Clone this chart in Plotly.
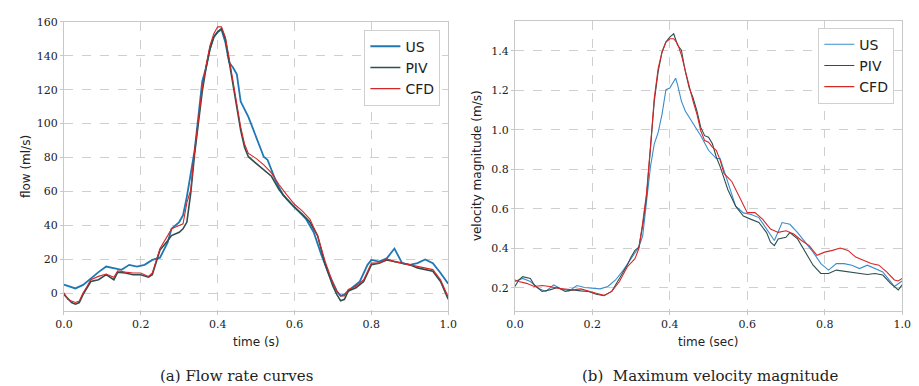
import plotly.graph_objects as go

# ---------- (a) Flow rate ----------
flow_us_t = [0, 0.03, 0.05, 0.07, 0.09, 0.11, 0.13, 0.15, 0.17, 0.19, 0.21, 0.23, 0.25, 0.27, 0.28, 0.30, 0.31, 0.32,
             0.34, 0.36, 0.37, 0.38, 0.39, 0.40, 0.41, 0.42, 0.43, 0.44, 0.45, 0.46, 0.48, 0.50, 0.52, 0.53, 0.55,
             0.57, 0.60, 0.63, 0.65, 0.67, 0.69, 0.71, 0.72, 0.73, 0.75, 0.77, 0.79, 0.80, 0.82, 0.84, 0.86, 0.88,
             0.90, 0.92, 0.94, 0.96, 0.98, 1.00]
flow_us = [5.2, 2.9, 5, 9, 12.5, 15.8, 14.9, 13.9, 16.8, 15.8, 16.8, 19.7, 21, 30, 38, 42, 46, 57,
           84, 125, 133, 144, 151, 154, 155.5, 148, 136, 133, 129, 113, 104, 92, 80.5, 78.6, 67,
           58, 50.6, 43.8, 36, 22.6, 11, 1.4, -1.5, -0.6, 3.3, 7, 16.8, 19.7, 18.7, 20.6, 26.4, 17.8,
           16.8, 17.8, 20, 17.8, 12, 5.6]

flow_piv_t = [0, 0.01, 0.02, 0.03, 0.04, 0.05, 0.06, 0.07, 0.09, 0.11, 0.13, 0.14, 0.16, 0.18, 0.20, 0.22, 0.23,
              0.25, 0.27, 0.28, 0.30, 0.31, 0.32, 0.33, 0.34, 0.35, 0.36, 0.37, 0.38, 0.39, 0.40, 0.41, 0.42,
              0.43, 0.44, 0.45, 0.46, 0.47, 0.48, 0.50, 0.52, 0.54, 0.56, 0.58, 0.60, 0.62, 0.64, 0.66, 0.68,
              0.70, 0.71, 0.72, 0.73, 0.74, 0.76, 0.78, 0.80, 0.82, 0.84, 0.86, 0.88, 0.90, 0.92, 0.94, 0.96,
              0.98, 1.00]
flow_piv = [-0.6, -3, -5.4, -6.4, -5.4, -0.6, 3.3, 7, 8, 11, 8, 12.5, 12, 11, 11, 9.5, 11,
            25.5, 31, 34, 36, 38, 42, 59, 82, 102, 119, 133, 144, 151, 154, 156, 150,
            136.5, 123, 107.5, 96, 86, 80.5, 76.6, 72.8, 69, 61, 55.4, 50.6, 46.7, 42, 34, 16.8,
            4.2, -0.6, -4.4, -3.5, 1.4, 3.3, 7, 16.8, 17.8, 19.7, 18.7, 17.8, 16.8, 15, 14, 13,
            7, -3.5]

flow_cfd_t = flow_piv_t
flow_cfd = [0.4, -3.5, -4.5, -5.4, -4.5, 0.4, 4, 8, 10, 11.4, 9.5, 13.3, 12.5, 12, 12, 10, 12,
            26.4, 34, 38, 40, 41, 53.5, 61, 84, 103.5, 121, 134.5, 146, 153, 157, 157, 151,
            138.5, 125, 109.5, 98, 88, 82.4, 79.5, 75.7, 71, 64, 58, 52.5, 48.6, 43.8, 34, 18.7,
            6, 1.4, -1.5, -1.5, 2.3, 4.2, 8, 17.8, 17.8, 20.3, 18.7, 17.8, 16.8, 15.8, 15, 14,
            8, -2.2]

# ---------- (b) Max velocity ----------
vel_us_t = [0, 0.02, 0.04, 0.06, 0.08, 0.10, 0.12, 0.14, 0.16, 0.18, 0.20, 0.22, 0.24, 0.26, 0.28, 0.30, 0.32,
            0.33, 0.34, 0.35, 0.36, 0.37, 0.38, 0.39, 0.40, 0.41, 0.415, 0.42, 0.43, 0.44, 0.46, 0.48, 0.50,
            0.52, 0.53, 0.55, 0.57, 0.59, 0.61, 0.63, 0.65, 0.67, 0.69, 0.71, 0.73, 0.75, 0.77, 0.79, 0.81,
            0.83, 0.85, 0.87, 0.89, 0.91, 0.93, 0.95, 0.97, 0.98, 1.00]
vel_us = [0.232, 0.248, 0.232, 0.198, 0.182, 0.215, 0.195, 0.185, 0.212, 0.202, 0.198, 0.195, 0.207, 0.24, 0.29,
          0.348, 0.406, 0.464, 0.63, 0.813, 0.93, 0.988, 1.08, 1.204, 1.212, 1.246, 1.262, 1.23, 1.146, 1.096,
          1.03, 0.971, 0.897, 0.855, 0.855, 0.73, 0.614, 0.58, 0.572, 0.556, 0.498, 0.44, 0.531, 0.522, 0.48,
          0.431, 0.381, 0.323, 0.29, 0.323, 0.323, 0.315, 0.298, 0.315, 0.298, 0.281, 0.232, 0.207, 0.235]

vel_piv_t = [0, 0.01, 0.02, 0.04, 0.05, 0.07, 0.09, 0.11, 0.13, 0.15, 0.17, 0.19, 0.21, 0.23, 0.25, 0.27, 0.29,
             0.30, 0.31, 0.32, 0.33, 0.34, 0.35, 0.36, 0.37, 0.38, 0.39, 0.40, 0.41, 0.42, 0.43, 0.44, 0.45,
             0.46, 0.47, 0.48, 0.49, 0.50, 0.51, 0.52, 0.53, 0.55, 0.57, 0.59, 0.61, 0.63, 0.65, 0.66, 0.67,
             0.68, 0.70, 0.71, 0.73, 0.75, 0.77, 0.79, 0.81, 0.83, 0.85, 0.87, 0.89, 0.91, 0.93, 0.95, 0.97,
             0.99, 1.00]
vel_piv = [0.207, 0.24, 0.257, 0.248, 0.215, 0.182, 0.19, 0.202, 0.182, 0.19, 0.185, 0.182, 0.168, 0.16, 0.182,
           0.248, 0.315, 0.356, 0.39, 0.406, 0.514, 0.664, 0.897, 1.146, 1.296, 1.395, 1.445, 1.47, 1.487,
           1.43, 1.404, 1.296, 1.213, 1.163, 1.096, 1.013, 0.971, 0.963, 0.93, 0.863, 0.814, 0.697, 0.614,
           0.564, 0.547, 0.531, 0.48, 0.431, 0.414, 0.448, 0.456, 0.48, 0.448, 0.381, 0.315, 0.273, 0.273,
           0.29, 0.285, 0.278, 0.273, 0.268, 0.273, 0.265, 0.223, 0.19, 0.215]

vel_cfd_t = [0, 0.01, 0.03, 0.05, 0.07, 0.09, 0.11, 0.13, 0.15, 0.17, 0.19, 0.21, 0.23, 0.25, 0.27, 0.29, 0.31,
             0.32, 0.33, 0.34, 0.35, 0.36, 0.37, 0.38, 0.39, 0.40, 0.41, 0.42, 0.43, 0.44, 0.45, 0.46, 0.47,
             0.48, 0.49, 0.50, 0.51, 0.52, 0.53, 0.54, 0.56, 0.58, 0.60, 0.62, 0.64, 0.66, 0.68, 0.70, 0.72,
             0.74, 0.76, 0.78, 0.80, 0.82, 0.84, 0.86, 0.88, 0.90, 0.92, 0.94, 0.96, 0.98, 0.99, 1.00]
vel_cfd = [0.24, 0.232, 0.223, 0.207, 0.212, 0.207, 0.198, 0.195, 0.19, 0.195, 0.182, 0.173, 0.162, 0.182,
           0.232, 0.306, 0.348, 0.398, 0.531, 0.68, 0.913, 1.163, 1.312, 1.395, 1.445, 1.462, 1.462, 1.437,
           1.379, 1.296, 1.213, 1.146, 1.08, 0.996, 0.946, 0.938, 0.913, 0.897, 0.847, 0.78, 0.739, 0.656,
           0.581, 0.581, 0.547, 0.498, 0.481, 0.489, 0.473, 0.44, 0.414, 0.365, 0.381, 0.39, 0.402, 0.39,
           0.356, 0.34, 0.323, 0.315, 0.281, 0.24, 0.235, 0.248]

x_ticks = [0.0, 0.2, 0.4, 0.6, 0.8, 1.0]
flow_ticks = [0, 20, 40, 60, 80, 100, 120, 140, 160]
vel_ticks = [0.2, 0.4, 0.6, 0.8, 1.0, 1.2, 1.4]

C_US_A = "#1f77b4"
C_US_B = "#3a8ccc"
C_PIV = "#2f4f4f"
C_CFD = "#d62728"

fig = go.Figure()
fig.add_trace(go.Scatter(x=flow_us_t, y=flow_us, name="US", mode="lines", line=dict(color=C_US_A, width=1.8),
                         xaxis="x", yaxis="y", legend="legend"))
fig.add_trace(go.Scatter(x=flow_piv_t, y=flow_piv, name="PIV", mode="lines", line=dict(color=C_PIV, width=1.6),
                         xaxis="x", yaxis="y", legend="legend"))
fig.add_trace(go.Scatter(x=flow_cfd_t, y=flow_cfd, name="CFD", mode="lines", line=dict(color=C_CFD, width=1.1),
                         xaxis="x", yaxis="y", legend="legend"))
fig.add_trace(go.Scatter(x=vel_us_t, y=vel_us, name="US", mode="lines", line=dict(color=C_US_B, width=1.1),
                         xaxis="x2", yaxis="y2", legend="legend2"))
fig.add_trace(go.Scatter(x=vel_piv_t, y=vel_piv, name="PIV", mode="lines", line=dict(color=C_PIV, width=1.1),
                         xaxis="x2", yaxis="y2", legend="legend2"))
fig.add_trace(go.Scatter(x=vel_cfd_t, y=vel_cfd, name="CFD", mode="lines", line=dict(color=C_CFD, width=1.1),
                         xaxis="x2", yaxis="y2", legend="legend2"))

tickfont = dict(family="DejaVu Serif", size=11, color="#222")
axis_common = dict(showgrid=True, gridcolor="#cfcfcf", griddash="dash", gridwidth=1,
                   showline=True, linecolor="#c8c8c8", linewidth=1, mirror=True,
                   ticks="outside", ticklen=3, tickcolor="#c8c8c8", tickfont=tickfont, zeroline=False)

fig.update_layout(
    width=919, height=386, margin=dict(l=0, r=0, t=0, b=0),
    paper_bgcolor="white", plot_bgcolor="white",
    xaxis=dict(domain=[56/919, 448/919], range=[0, 1], tickvals=x_ticks, tickformat=".1f", anchor="y", **axis_common),
    yaxis=dict(domain=[1-310/386, 1-16/386], range=[-10.5, 160], tickvals=flow_ticks, anchor="x", **axis_common),
    xaxis2=dict(domain=[516/919, 911/919], range=[0, 1], tickvals=x_ticks, tickformat=".1f", anchor="y2", **axis_common),
    yaxis2=dict(domain=[1-310/386, 1-15/386], range=[0.082, 1.553], tickvals=vel_ticks, tickformat=".1f", anchor="x2",
                **axis_common),
    legend=dict(x=440/919, y=1-24/386, xanchor="right", yanchor="top", bgcolor="white", bordercolor="#d0d0d0",
                borderwidth=1, font=dict(family="DejaVu Sans", size=14, color="#222"), itemwidth=30),
    legend2=dict(x=903/919, y=1-22/386, xanchor="right", yanchor="top", bgcolor="white", bordercolor="#d0d0d0",
                 borderwidth=1, font=dict(family="DejaVu Sans", size=14, color="#222"), itemwidth=30),
    showlegend=True,
)

ann_font = dict(family="DejaVu Sans", size=12, color="#222")
cap_font = dict(family="DejaVu Serif", size=15, color="#222")
fig.add_annotation(text="flow (ml/s)", x=18/919, y=1-163/386, xref="paper", yref="paper", textangle=-90,
                   showarrow=False, font=ann_font, xanchor="center", yanchor="middle")
fig.add_annotation(text="velocity magnitude (m/s)", x=478/919, y=1-162/386, xref="paper", yref="paper",
                   textangle=-90, showarrow=False, font=ann_font, xanchor="center", yanchor="middle")
fig.add_annotation(text="time (s)", x=252/919, y=1-341/386, xref="paper", yref="paper", showarrow=False,
                   font=ann_font, xanchor="center", yanchor="middle")
fig.add_annotation(text="time (sec)", x=713/919, y=1-341/386, xref="paper", yref="paper", showarrow=False,
                   font=ann_font, xanchor="center", yanchor="middle")
fig.add_annotation(text="(a) Flow rate curves", x=232/919, y=1-376/386, xref="paper", yref="paper",
                   showarrow=False, font=cap_font, xanchor="center", yanchor="middle")
fig.add_annotation(text="(b)  Maximum velocity magnitude", x=715/919, y=1-376/386, xref="paper", yref="paper",
                   showarrow=False, font=cap_font, xanchor="center", yanchor="middle")

fig.write_html("out.html")
